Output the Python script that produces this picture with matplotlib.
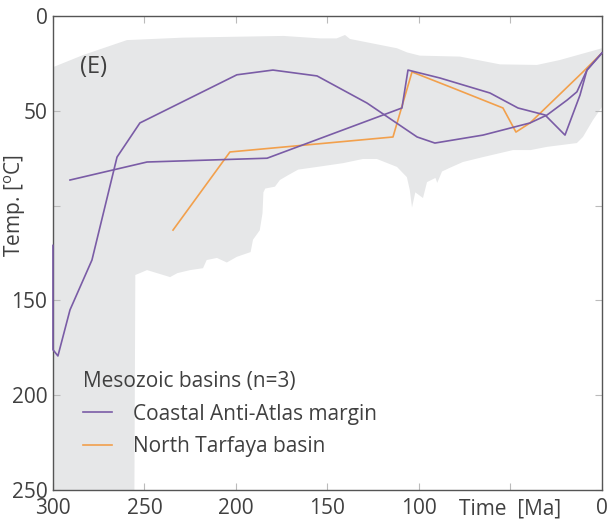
import numpy as np
import matplotlib
matplotlib.use("Agg")
import matplotlib.pyplot as plt

plt.rcParams['font.family'] = ['Open Sans', 'DejaVu Sans']
plt.rcParams['mathtext.fontset'] = 'custom'
plt.rcParams['mathtext.rm'] = 'Open Sans'

# gray envelope of all models (time [Ma], temperature [C])
env_top_ma = [0, 23, 35.5, 55.7, 77.6, 99.5, 106.5, 112, 137.7, 140.4, 145, 154, 174, 229, 259.6, 283.6, 300]
env_top_t = [17, 23.2, 25.8, 25.5, 21.4, 20.9, 19.2, 17, 12.1, 10, 11.8, 11.8, 10.5, 11.4, 12.7, 20.6, 27]
env_bot_ma = [0, 5, 10.4, 13.7, 30, 39, 48.6, 65, 76, 83, 87.4, 90, 91, 95.6, 97.8, 102, 103.8, 105,
              106.6, 112, 123, 130.6, 141.5, 155.7, 166, 171.6, 176, 178.7, 184, 185, 185.5, 187,
              190.7, 192, 199.5, 205, 210.4, 216, 218, 225, 232, 236, 248.6, 252.5, 255, 255.5, 300]
env_bot_t = [48, 55, 63.8, 67, 69, 70.7, 70.7, 74.4, 77, 80, 82, 88, 85.4, 87.6, 96, 93, 101, 91.8,
             85, 79.6, 75.4, 75.4, 77.6, 79.6, 81, 84, 86.5, 90, 91, 93, 104, 113,
             118, 124.5, 127, 130, 127.6, 128.7, 133, 134, 135.6, 137.7, 134, 135.6, 136.6, 250, 250]

# Coastal Anti-Atlas margin (two paths)
caa1_ma = [300, 300, 297.3, 290.7, 278.7, 265, 252.5, 199.5, 179.8, 155.7, 128.4, 101, 91.3, 65, 39.3, 30, 19, 13.7, 8.2, 0]
caa1_t = [121, 176, 179.3, 155, 128.7, 74.4, 56.4, 31, 28.5, 31.6, 45.9, 63.8, 67, 62.8, 56.4, 52.2, 44.3, 40, 28.5, 19.5]
caa2_ma = [290.7, 248.6, 183, 109.3, 106, 88.5, 61.2, 45.9, 31.1, 20.2, 12, 8.2, 0]
caa2_t = [86.5, 77, 75, 48.5, 28.5, 32.7, 40.6, 48.5, 52.2, 62.8, 41.7, 28.5, 19.5]

# North Tarfaya basin
ntb_ma = [234.4, 203.3, 114.2, 103.8, 81.4, 54.1, 47, 39.3, 10.4, 0]
ntb_t = [112.9, 71.7, 63.8, 29.5, 38, 48.5, 61.2, 56.4, 29.5, 19.5]

purple = '#7a5ca6'
orange = '#f2a04c'
txt = '#404040'

fig = plt.figure(figsize=(6.11, 5.22), dpi=100)
ax = fig.add_axes([0.0867, 0.0613, 0.8985, 0.908])

poly_x = env_top_ma + env_bot_ma[::-1]
poly_y = env_top_t + env_bot_t[::-1]
ax.fill(poly_x, poly_y, color='#e6e7e8', lw=0, zorder=1)

ax.plot(caa1_ma, caa1_t, color=purple, lw=1.2, zorder=3, clip_on=False, label='Coastal Anti-Atlas margin')
ax.plot(caa2_ma, caa2_t, color=purple, lw=1.2, zorder=3)
ax.plot(ntb_ma, ntb_t, color=orange, lw=1.2, zorder=2, label='North Tarfaya basin')

ax.set_xlim(300, 0)
ax.set_ylim(250, 0)
ax.set_xticks([300, 250, 200, 150, 100, 50, 0])
ax.set_xticklabels(['300', '250', '200', '150', '100', 'Time  [Ma]', '0'])
ax.set_yticks([0, 50, 100, 150, 200, 250])
ax.set_yticklabels(['0', '50', '', '150', '200', '250'])
ax.tick_params(direction='in', length=5, color='#bbbbbb', labelsize=15, labelcolor=txt,
               top=True, right=True)
ax.tick_params(axis='x', pad=6)
ax.tick_params(axis='y', pad=4)
for s in ax.spines.values():
    s.set_color('#555555')
    s.set_linewidth(1)

ax.set_ylabel('Temp. [$^{\\rm o}$C]', fontsize=15, color=txt)
ax.yaxis.set_label_coords(-0.045, 0.6)

ax.text(278, 27, '(E)', fontsize=17, color=txt, ha='center', va='center')

leg = ax.legend(loc='upper left', bbox_to_anchor=(0.02, 0.29), frameon=False, fontsize=15,
                title='Mesozoic basins (n=3)', title_fontsize=15, alignment='left',
                handlelength=1.4, handletextpad=1.0, labelspacing=0.55)
for t in leg.get_texts():
    t.set_color(txt)
leg.get_title().set_color(txt)

fig.savefig('out.png', dpi=100)
